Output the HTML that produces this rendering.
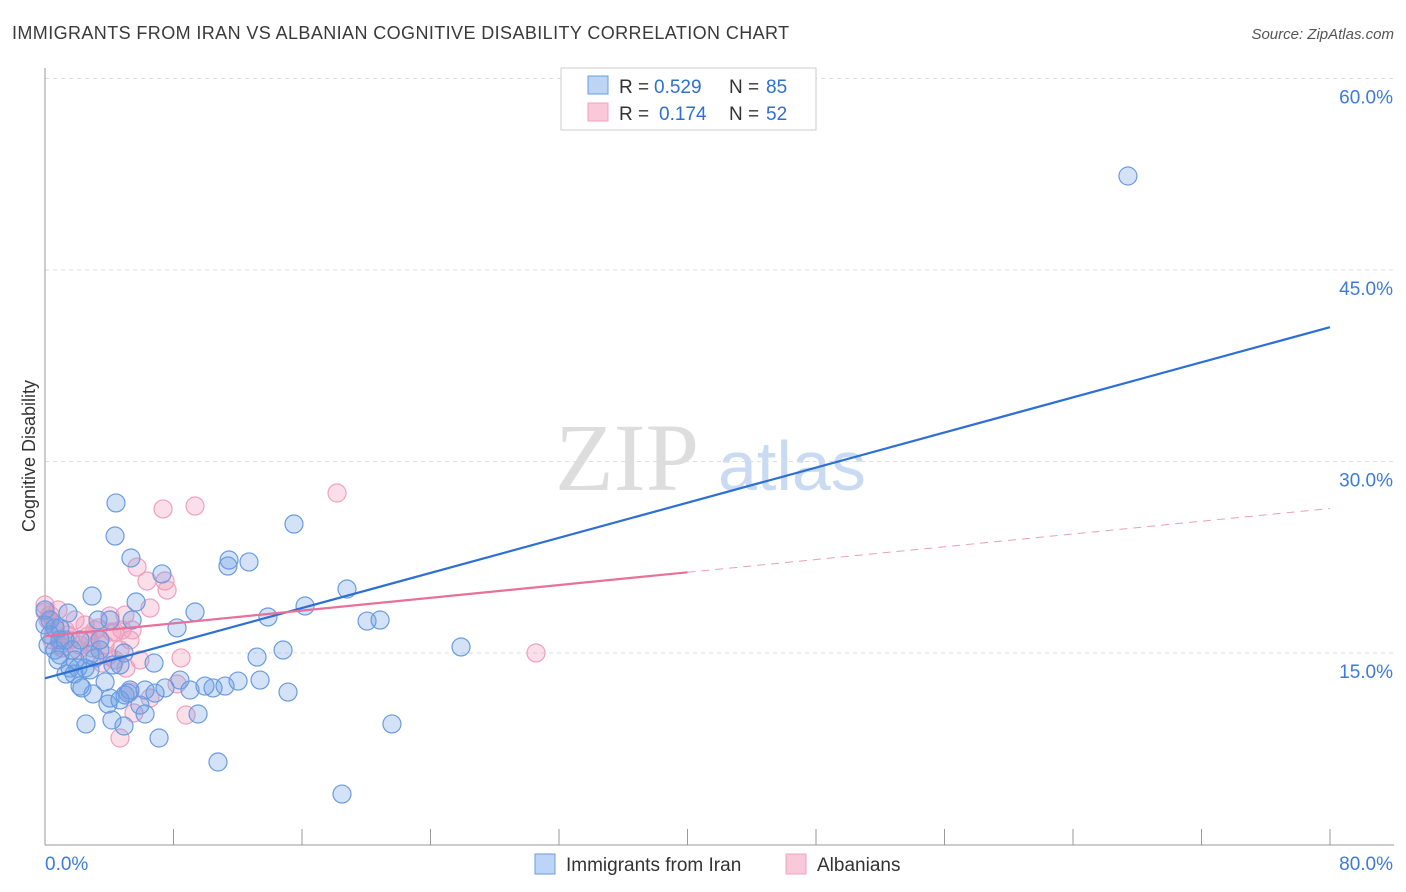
<!DOCTYPE html>
<html><head><meta charset="utf-8"><style>
body{margin:0;background:#fff;font-family:"Liberation Sans",sans-serif;}
svg{display:block}
</style></head><body>
<svg id="chart" width="1406" height="892">
<text x="12" y="39" font-size="18" fill="#3a3a3a" letter-spacing="0.4">IMMIGRANTS FROM IRAN VS ALBANIAN COGNITIVE DISABILITY CORRELATION CHART</text>
<text x="1394" y="39" font-size="15" fill="#555" text-anchor="end" font-style="italic">Source: ZipAtlas.com</text>
<text x="35" y="456" font-size="18" fill="#333" text-anchor="middle" transform="rotate(-90 35 456)">Cognitive Disability</text>
<text x="555" y="490" font-size="96" fill="#ddd" font-family="Liberation Serif,serif">ZIP</text>
<text x="718" y="490" font-size="70" fill="#c9dbf2">atlas</text>
<g id="grid"></g><g id="pts"></g><g id="lines"></g>
<g font-size="19">
<rect x="561" y="68" width="255" height="62" fill="#fff" stroke="#ccc"/>
<rect x="588" y="76" width="20" height="18" fill="#bcd4f5" stroke="#6a9be0"/>
<text x="619" y="93" fill="#333">R =</text>
<text x="654" y="93" fill="#2d6fd4">0.529</text>
<text x="729" y="93" fill="#333">N =</text>
<text x="766" y="93" fill="#2d6fd4">85</text>
<rect x="588" y="103" width="20" height="18" fill="#f9c9da" stroke="#f0a0bf"/>
<text x="619" y="120" fill="#333">R =</text>
<text x="659" y="120" fill="#2d6fd4">0.174</text>
<text x="729" y="120" fill="#333">N =</text>
<text x="766" y="120" fill="#2d6fd4">52</text>
</g>
<g>
<rect x="535" y="854" width="20" height="20" fill="#bcd4f5" stroke="#6a9be0"/>
<text x="566" y="871" font-size="19" fill="#333">Immigrants from Iran</text>
<rect x="786" y="854" width="20" height="20" fill="#f9c9da" stroke="#f0a0bf"/>
<text x="817" y="871" font-size="19" fill="#333">Albanians</text>
</g>
</svg>
<script>
const yTicks=[15,30,45,60];
const xTickLabels=["0.0%","80.0%"];
const bluePx=[[1128,176],[116,503],[115,536],[294,524],[131,558],[228,566],[229,560],[249,562],[162,574],[347,589],[92,596],[195,612],[136,602],[268,617],[305,606],[367,621],[380,620],[177,628],[461,647],[283,650],[257,657],[154,663],[124,653],[68,613],[110,620],[132,620],[98,620],[60,628],[80,640],[50,620],[55,628],[65,640],[100,650],[90,655],[75,660],[95,658],[70,668],[78,668],[85,668],[60,655],[55,650],[120,665],[145,690],[180,680],[165,688],[205,686],[213,688],[225,686],[238,681],[260,680],[288,692],[155,693],[125,695],[128,693],[110,698],[93,694],[80,686],[108,704],[145,714],[198,714],[112,720],[124,726],[86,724],[159,738],[392,724],[218,762],[342,794],[45,610],[45,625],[50,635],[60,640],[72,650],[100,640],[48,645],[58,660],[66,674],[74,674],[140,705],[120,700],[82,688],[105,682],[90,670],[113,665],[130,690],[190,690]];
const pinkPx=[[337,493],[195,506],[163,509],[137,567],[147,581],[165,581],[167,590],[150,608],[125,615],[110,616],[45,605],[50,615],[55,625],[65,630],[75,620],[85,625],[95,630],[100,640],[105,645],[115,632],[120,650],[130,640],[70,640],[60,645],[80,645],[90,642],[140,660],[126,668],[115,660],[181,658],[536,653],[177,684],[150,698],[130,692],[186,715],[134,713],[120,738],[48,620],[58,610],[68,635],[78,650],[88,636],[98,628],[108,656],[112,632],[122,630],[132,630],[102,663],[92,648],[62,648],[52,640],[45,612]];
const blueX=bluePx.map(p=>+((p[0]-45)/16.0625).toFixed(2));
const blueY=bluePx.map(p=>+((845.5-p[1])/12.767).toFixed(2));
const pinkX=pinkPx.map(p=>+((p[0]-45)/16.0625).toFixed(2));
const pinkY=pinkPx.map(p=>+((845.5-p[1])/12.767).toFixed(2));
const blueTrend=[13.1,40.6];
const pinkTrend=[16.4,26.4];
const pinkSolidEnd=40;

const X=v=>45+v*16.0625, Y=v=>845.5-v*12.767;
const NS="http://www.w3.org/2000/svg";
function mk(tag,at,parent){const e=document.createElementNS(NS,tag);for(const k in at)e.setAttribute(k,at[k]);parent.appendChild(e);return e;}
const grid=document.getElementById('grid');
yTicks.forEach(t=>{
 const l=mk('line',{x1:45,x2:1394,y1:Y(t)-1,y2:Y(t)-1,stroke:'#ddd','stroke-dasharray':'4,4'},grid);
 
 
 const tx=mk('text',{x:1393,y:Y(t)+24,'font-size':19,fill:'#3d7bd9','text-anchor':'end'},grid);
 tx.textContent=t.toFixed(1)+'%';
 
 
});
mk('line',{x1:45,x2:45,y1:68,y2:845,stroke:'#999'},grid);
mk('line',{x1:45,x2:1394,y1:845,y2:845,stroke:'#999'},grid);
for(let i=0;i<=10;i++){mk('line',{x1:X(i*8),x2:X(i*8),y1:829,y2:845,stroke:'#999'},grid);}
const xl0=mk('text',{x:45,y:870,'font-size':19,fill:'#3d7bd9'},grid);xl0.textContent=xTickLabels[0];


const xl1=mk('text',{x:1393,y:870,'font-size':19,fill:'#3d7bd9','text-anchor':'end'},grid);xl1.textContent=xTickLabels[1];


const pts=document.getElementById('pts');
pinkX.forEach((v,i)=>{const c=mk('circle',{cx:X(v),cy:Y(pinkY[i]),r:9,fill:'rgba(240,150,180,0.3)',stroke:'#f0a0bf','stroke-width':1.2},pts);
 
 });
blueX.forEach((v,i)=>{const c=mk('circle',{cx:X(v),cy:Y(blueY[i]),r:9,fill:'rgba(110,160,230,0.3)',stroke:'#6a9be0','stroke-width':1.2},pts);
 
 });
const lines=document.getElementById('lines');
const bl=mk('line',{x1:X(0),y1:Y(blueTrend[0]),x2:X(80),y2:Y(blueTrend[1]),stroke:'#2d6fd4','stroke-width':2.2},lines);


const pm=pinkTrend[0]+(pinkTrend[1]-pinkTrend[0])*pinkSolidEnd/80;
const pl=mk('line',{x1:X(0),y1:Y(pinkTrend[0]),x2:X(pinkSolidEnd),y2:Y(pm),stroke:'#e8709a','stroke-width':2.2},lines);


const pd=mk('line',{x1:X(pinkSolidEnd),y1:Y(pm),x2:X(80),y2:Y(pinkTrend[1]),stroke:'#e8a0b8','stroke-width':1,'stroke-dasharray':'8,6'},lines);


</script>
</body></html>
